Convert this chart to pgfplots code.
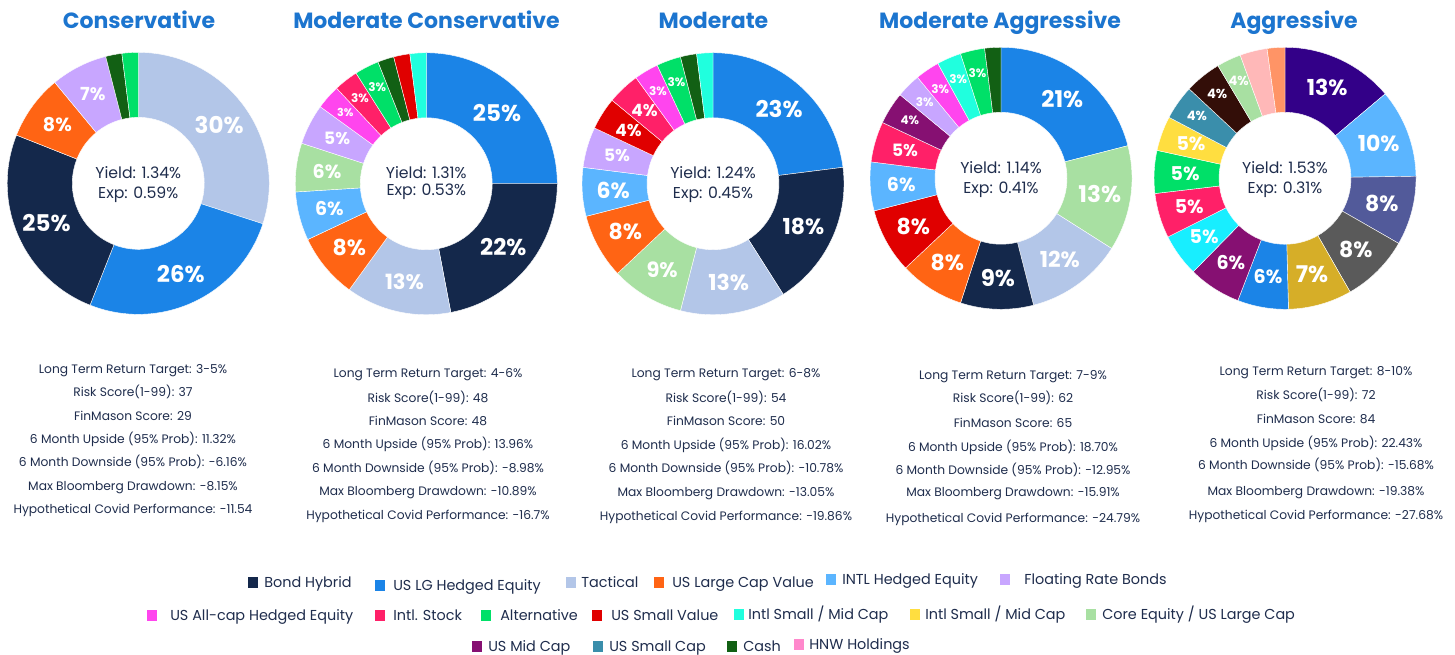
\documentclass[border=0pt]{standalone}
\usepackage{pgfplots}
\pgfplotsset{compat=1.18}
\usepackage{pgfplotstable}
\usepackage{fontspec}
\setmainfont{Poppins}

\definecolor{bondhybrid}{HTML}{14284B}
\definecolor{uslg}{HTML}{1B84E7}
\definecolor{tactical}{HTML}{B3C6E8}
\definecolor{uslcv}{HTML}{FF6414}
\definecolor{intlhe}{HTML}{5BB5FF}
\definecolor{frb}{HTML}{C8A6FF}
\definecolor{usallcap}{HTML}{FF45EE}
\definecolor{intlstock}{HTML}{FF2068}
\definecolor{alternative}{HTML}{00E068}
\definecolor{ussmallvalue}{HTML}{E00000}
\definecolor{intlsmaqua}{HTML}{20FFDE}
\definecolor{intlsmyellow}{HTML}{FFDE40}
\definecolor{coreequity}{HTML}{A8E0A2}
\definecolor{usmidcap}{HTML}{861072}
\definecolor{ussmallcap}{HTML}{3A8EAB}
\definecolor{cash}{HTML}{126014}
\definecolor{hnw}{HTML}{FF88CC}
\definecolor{agpurple}{HTML}{330088}
\definecolor{agslate}{HTML}{525A9A}
\definecolor{aggray}{HTML}{5A5A5A}
\definecolor{aggold}{HTML}{D6AE28}
\definecolor{agcyan}{HTML}{18EEFF}
\definecolor{agbrown}{HTML}{330E08}
\definecolor{agpink}{HTML}{FFB8B8}
\definecolor{agsalmon}{HTML}{FF9466}
\definecolor{titleblue}{HTML}{1C75CF}
\definecolor{navytext}{HTML}{1F2D4D}

% v = slice size, l = printed label (0 = none), c = colour, s = label size (px)
\pgfplotstableread{
v l c s
30 30 tactical 23
26 26 uslg 23
25 25 bondhybrid 23
8 8 uslcv 19
7 7 frb 18
2 0 cash 0
2 0 alternative 0
}\tabCons

\pgfplotstableread{
v l c s
25 25 uslg 23
22 22 bondhybrid 23
13 13 tactical 21
8 8 uslcv 22
6 6 intlhe 19
6 6 coreequity 19
5 5 frb 17
3 3 usallcap 11
3 3 intlstock 12
3 3 alternative 12
2 0 cash 0
2 0 ussmallvalue 0
2 0 intlsmaqua 0
}\tabModCons

\pgfplotstableread{
v l c s
23 23 uslg 23
18 18 bondhybrid 22
13 13 tactical 22
9 9 coreequity 21
8 8 uslcv 22
6 6 intlhe 22
5 5 frb 17
4 4 ussmallvalue 17
4 4 intlstock 17
3 3 usallcap 12
3 3 alternative 12
2 0 cash 0
2 0 intlsmaqua 0
}\tabMod

\pgfplotstableread{
v l c s
21 21 uslg 23
13 13 coreequity 23
12 12 tactical 22
9 9 bondhybrid 23
8 8 uslcv 22
8 8 ussmallvalue 22
6 6 intlhe 19
5 5 intlstock 17
4 4 usmidcap 12
3 3 frb 12
3 3 usallcap 12
3 3 intlsmaqua 12
3 3 alternative 12
2 0 cash 0
}\tabModAgg

\pgfplotstableread{
v l c s
13.86 13 agpurple 22
10.89 10 intlhe 22
8.53 8 agslate 22
8.44 8 aggray 22
7.86 7 aggold 23
6.28 6 uslg 19
6.50 6 usmidcap 19
5.25 5 agcyan 19
5.53 5 intlstock 19
5.28 5 alternative 19
4.28 5 intlsmyellow 19
4.25 4 ussmallcap 13
4.50 4 agbrown 13
3.00 4 coreequity 13
3.36 0 agpink 0
2.19 0 agsalmon 0
}\tabAgg

\def\Ro{131}\def\Ri{66}
\def\RoPt{98.25pt}\def\RiPt{49.5pt}

\newcommand\donut[1]{%
  \pgfplotstablegetrowsof{#1}%
  \pgfmathtruncatemacro\dnN{\pgfplotsretval-1}%
  \def\dnTot{0}%
  \pgfplotsforeachungrouped \dni in {0,...,\dnN}{%
    \pgfplotstablegetelem{\dni}{v}\of{#1}%
    \pgfmathsetmacro\dnTot{\dnTot+\pgfplotsretval}%
  }%
  \def\dnCum{0}%
  \pgfplotsforeachungrouped \dni in {0,...,\dnN}{%
    \pgfplotstablegetelem{\dni}{v}\of{#1}\let\dnVal\pgfplotsretval
    \pgfplotstablegetelem{\dni}{c}\of{#1}\let\dnCol\pgfplotsretval
    \pgfplotstablegetelem{\dni}{l}\of{#1}\let\dnLab\pgfplotsretval
    \pgfplotstablegetelem{\dni}{s}\of{#1}\let\dnFs\pgfplotsretval
    \pgfmathsetmacro\dnA{90-360*(\dnCum/\dnTot)}%
    \pgfmathsetmacro\dnCum{\dnCum+\dnVal}%
    \pgfmathsetmacro\dnB{90-360*(\dnCum/\dnTot)}%
    \pgfmathsetmacro\dnM{(\dnA+\dnB)/2}%
    \pgfmathsetmacro\dnxa{\Ro*cos(\dnA)}\pgfmathsetmacro\dnya{\Ro*sin(\dnA)}%
    \pgfmathsetmacro\dnxb{\Ri*cos(\dnB)}\pgfmathsetmacro\dnyb{\Ri*sin(\dnB)}%
    \edef\dnTemp{\noexpand\fill[\dnCol, draw=white, line width=0.3pt] (axis cs:\dnxa,\dnya) arc[start angle=\dnA, end angle=\dnB, radius=\RoPt] -- (axis cs:\dnxb,\dnyb) arc[start angle=\dnB, end angle=\dnA, radius=\RiPt] -- cycle;}%
    \dnTemp
    \ifnum\dnLab>0
      \pgfmathsetmacro\dnR{\dnFs<14 ? 108 : 100}%
      \pgfmathsetmacro\dnxl{\dnR*cos(\dnM)}\pgfmathsetmacro\dnyl{\dnR*sin(\dnM)}%
      \pgfmathsetmacro\dnF{\dnFs*0.75}%
      \edef\dnTemp{\noexpand\node[text=white, inner sep=0pt, font=\noexpand\fontsize{\dnF pt}{\dnF pt}\noexpand\selectfont\noexpand\bfseries] at (axis cs:\dnxl,\dnyl) {\dnLab\noexpand\%};}%
      \dnTemp
    \fi
  }%
}

\pgfplotsset{donutaxis/.style={anchor=center, x=0.75pt, y=0.75pt,
  xmin=-135, xmax=135, ymin=-135, ymax=135, hide axis, clip=false}}

\tikzset{
  ctr/.style={text=navytext, inner sep=0pt, anchor=base, font=\fontsize{11.8pt}{13pt}\selectfont},
  ttl/.style={text=titleblue, inner sep=0pt, anchor=base, font=\fontsize{16.5pt}{18pt}\selectfont\bfseries},
  stat/.style={text=navytext, inner sep=0pt, anchor=base, font=\fontsize{9.2pt}{11pt}\selectfont},
  lg/.style={text=navytext, inner sep=0pt, anchor=base west, font=\fontsize{10.8pt}{12pt}\selectfont},
}
\newcommand\lgitem[5]{% colour, square x, text x, y, text
  \fill[#1] (#2,#4-5.5) rectangle ++(10,11);
  \node[lg] at (#3,#4+5.5) {#5};
}
\newcommand\stat[3]{\node[stat] at (#1,#2+4.5) {#3};}

\begin{document}
\begin{tikzpicture}[x=0.75pt,y=-0.75pt]
\fill[white] (0,0) rectangle (1455,654);
\useasboundingbox (0,0) rectangle (1455,654);

% axis centres in pt: x*0.75, -y*0.75 of the pixel position
\begin{axis}[donutaxis, at={(103.7pt,-137.5pt)}]
\donut{\tabCons}
\node[ctr] at (axis cs:0,5) {Yield: 1.34\%};
\node[ctr] at (axis cs:0,-15) {Exp: 0.59\%};
\end{axis}

\begin{axis}[donutaxis, at={(319.7pt,-137.8pt)}]
\donut{\tabModCons}
\node[ctr] at (axis cs:0,5) {Yield: 1.31\%};
\node[ctr] at (axis cs:0,-12) {Exp: 0.53\%};
\end{axis}

\begin{axis}[donutaxis, at={(534.75pt,-137.8pt)}]
\donut{\tabMod}
\node[ctr] at (axis cs:0,5) {Yield: 1.24\%};
\node[ctr] at (axis cs:0,-15) {Exp: 0.45\%};
\end{axis}

\begin{axis}[donutaxis, at={(750.75pt,-133.7pt)}]
\donut{\tabModAgg}
\node[ctr] at (axis cs:0,5) {Yield: 1.14\%};
\node[ctr] at (axis cs:0,-15) {Exp: 0.41\%};
\end{axis}

\begin{axis}[donutaxis, at={(963.75pt,-133.7pt)}]
\donut{\tabAgg}
\node[ctr] at (axis cs:0,5) {Yield: 1.53\%};
\node[ctr] at (axis cs:0,-15) {Exp: 0.31\%};
\end{axis}

% titles
\node[ttl] at (139,28) {Conservative};
\node[ttl] at (426.5,28) {Moderate Conservative};
\node[ttl] at (713.5,28) {Moderate};
\node[ttl] at (1000,28) {Moderate Aggressive};
\node[ttl] at (1294,28) {Aggressive};

% statistics
\stat{133}{369}{Long Term Return Target: 3-5\%}
\stat{133}{392}{Risk Score(1-99): 37}
\stat{133}{416}{FinMason Score: 29}
\stat{133}{439}{6 Month Upside (95\% Prob): 11.32\%}
\stat{133}{462}{6 Month Downside (95\% Prob): -6.16\%}
\stat{133}{486}{Max Bloomberg Drawdown: -8.15\%}
\stat{133}{509}{Hypothetical Covid Performance: -11.54}

\stat{428}{373}{Long Term Return Target: 4-6\%}
\stat{428}{398}{Risk Score(1-99): 48}
\stat{428}{421}{FinMason Score: 48}
\stat{428}{444}{6 Month Upside (95\% Prob): 13.96\%}
\stat{428}{468}{6 Month Downside (95\% Prob): -8.98\%}
\stat{428}{491}{Max Bloomberg Drawdown: -10.89\%}
\stat{428}{515}{Hypothetical Covid Performance: -16.7\%}

\stat{726}{373}{Long Term Return Target: 6-8\%}
\stat{726}{398}{Risk Score(1-99): 54}
\stat{726}{421}{FinMason Score: 50}
\stat{726}{445}{6 Month Upside (95\% Prob): 16.02\%}
\stat{726}{468}{6 Month Downside (95\% Prob): -10.78\%}
\stat{726}{492}{Max Bloomberg Drawdown: -13.05\%}
\stat{726}{516}{Hypothetical Covid Performance: -19.86\%}

\stat{1013}{375}{Long Term Return Target: 7-9\%}
\stat{1013}{398}{Risk Score(1-99): 62}
\stat{1013}{423}{FinMason Score: 65}
\stat{1013}{447}{6 Month Upside (95\% Prob): 18.70\%}
\stat{1013}{470}{6 Month Downside (95\% Prob): -12.95\%}
\stat{1013}{492}{Max Bloomberg Drawdown: -15.91\%}
\stat{1013}{518}{Hypothetical Covid Performance: -24.79\%}

\stat{1316}{371}{Long Term Return Target: 8-10\%}
\stat{1316}{395}{Risk Score(1-99): 72}
\stat{1316}{419}{FinMason Score: 84}
\stat{1316}{443}{6 Month Upside (95\% Prob): 22.43\%}
\stat{1316}{465}{6 Month Downside (95\% Prob): -15.68\%}
\stat{1316}{491}{Max Bloomberg Drawdown: -19.38\%}
\stat{1316}{515}{Hypothetical Covid Performance: -27.68\%}

% legend
\lgitem{bondhybrid}{248}{264}{582}{Bond Hybrid}
\lgitem{uslg}{375}{393}{585}{US LG Hedged Equity}
\lgitem{tactical}{566}{581}{582}{Tactical}
\lgitem{uslcv}{654}{672}{582}{US Large Cap Value}
\lgitem{intlhe}{826}{842}{579}{INTL Hedged Equity}
\lgitem{frb}{1000}{1024}{579}{Floating Rate Bonds}

\lgitem{usallcap}{147}{170}{615}{US All-cap Hedged Equity}
\lgitem{intlstock}{375}{393}{615}{Intl. Stock}
\lgitem{alternative}{481}{500}{615}{Alternative}
\lgitem{ussmallvalue}{592}{611}{615}{US Small Value}
\lgitem{intlsmaqua}{734}{748}{614}{Intl Small / Mid Cap}
\lgitem{intlsmyellow}{910}{925}{614}{Intl Small / Mid Cap}
\lgitem{coreequity}{1086}{1102}{614}{Core Equity / US Large Cap}

\lgitem{usmidcap}{472}{488}{646}{US Mid Cap}
\lgitem{ussmallcap}{593}{609}{646}{US Small Cap}
\lgitem{cash}{727}{743}{646}{Cash}
\lgitem{hnw}{794}{809}{644}{HNW Holdings}
\end{tikzpicture}
\end{document}
